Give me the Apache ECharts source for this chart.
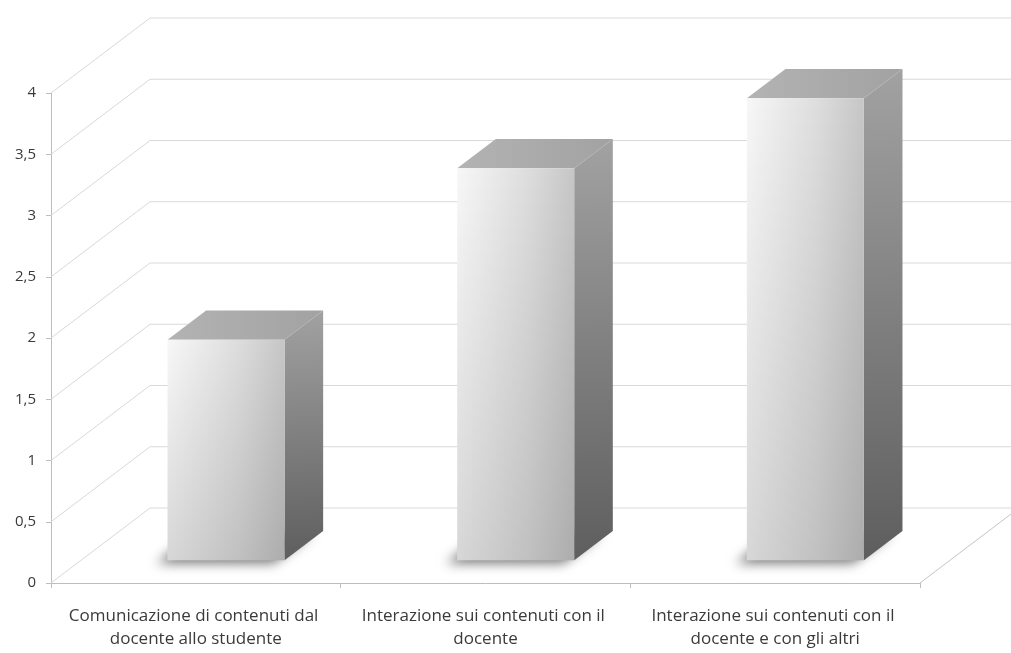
<!DOCTYPE html>
<html>
<head>
<meta charset="utf-8">
<script src="https://cdn.jsdelivr.net/npm/echarts@6/dist/echarts.min.js"></script>
<style>
  html, body { margin: 0; padding: 0; background: #ffffff; }
  #chart { width: 1011px; height: 653px; }
</style>
</head>
<body>
<div id="chart"></div>
<script>
// Categories and values of the 3D column chart
const categories = [
  'Comunicazione di contenuti dal docente allo studente',
  'Interazione sui contenuti con il docente',
  'Interazione sui contenuti con il docente e con gli altri'
];
const values = [1.8, 3.2, 3.77];
const yTicks = [0, 0.5, 1, 1.5, 2, 2.5, 3, 3.5, 4];

// Oblique depth of the plot box in pixels
const DX = 99, DY = -75;
// Column footprint inside the box: width share of a category, front/back depth share
const BAR_W = 0.404, F0 = 0.305, F1 = 0.695;

const chart = echarts.init(document.getElementById('chart'), null, { renderer: 'canvas' });

function wallItem(params, api) {
  const cs = params.coordSys;
  const v = api.value(0);
  const y = api.coord([0, v])[1];
  const x0 = cs.x, x1 = cs.x + cs.width;
  const line = { stroke: '#d9d9d9', lineWidth: 1, fill: null };
  const children = [{
    type: 'polyline',
    shape: { points: [[x0, y], [x0 + DX, y + DY], [x1 + DX, y + DY]] },
    style: line, silent: true
  }];
  if (v === 0) {
    children.push({
      type: 'line',
      shape: { x1: x1, y1: y, x2: x1 + DX, y2: y + DY },
      style: { stroke: '#c4c4c4', lineWidth: 1 }, silent: true
    });
  }
  return { type: 'group', children: children };
}

function barGeom(params, api) {
  const i = api.value(0);
  const base = api.coord([i, 0]);
  const top = api.coord([i, api.value(1)]);
  const catW = api.size([1, 0])[0];
  const bw = catW * BAR_W;
  const xl = base[0] - bw / 2 + F0 * DX;
  const xr = xl + bw;
  const yb = base[1] + F0 * DY;
  const yt = top[1] + F0 * DY;
  const ddx = (F1 - F0) * DX, ddy = (F1 - F0) * DY;
  return { xl, xr, yb, yt, ddx, ddy };
}

// Soft floor shadow: the footprint is drawn off to the side and only its blurred shadow lands under the column
function shadowItem(params, api) {
  const g = barGeom(params, api);
  const OFF = 3000;
  const ox = -11, oy = 3;
  return {
    type: 'polygon',
    shape: { points: [
      [g.xl - OFF, g.yb], [g.xr - OFF, g.yb],
      [g.xr + g.ddx - OFF, g.yb + g.ddy], [g.xl + g.ddx - OFF, g.yb + g.ddy]
    ] },
    style: {
      fill: '#000',
      shadowBlur: 12,
      shadowColor: 'rgba(0,0,0,0.55)',
      shadowOffsetX: OFF + ox,
      shadowOffsetY: oy
    },
    silent: true
  };
}

function barItem(params, api) {
  const g = barGeom(params, api);
  const w = g.xr - g.xl, h = g.yb - g.yt;
  const side = {
    type: 'polygon',
    shape: { points: [[g.xr, g.yb], [g.xr, g.yt], [g.xr + g.ddx, g.yt + g.ddy], [g.xr + g.ddx, g.yb + g.ddy]] },
    style: { fill: new echarts.graphic.LinearGradient(0, 0, 0.3, 1, [
      { offset: 0, color: '#a2a2a2' },
      { offset: 1, color: '#5e5e5e' }
    ]) }
  };
  const topFace = {
    type: 'polygon',
    shape: { points: [[g.xl, g.yt], [g.xr, g.yt], [g.xr + g.ddx, g.yt + g.ddy], [g.xl + g.ddx, g.yt + g.ddy]] },
    style: { fill: new echarts.graphic.LinearGradient(0, 0, 1, 0, [
      { offset: 0, color: '#b3b3b3' },
      { offset: 1, color: '#a2a2a2' }
    ]) }
  };
  // Front face: light-to-grey across, darkening slightly towards the floor
  const front = {
    type: 'rect',
    shape: { x: g.xl, y: g.yt, width: w, height: h },
    style: { fill: new echarts.graphic.LinearGradient(0, 0, 1, 0, [
      { offset: 0, color: '#f7f7f7' },
      { offset: 0.6, color: '#dddddd' },
      { offset: 1, color: '#c6c6c6' }
    ]) }
  };
  const frontShade = {
    type: 'rect',
    shape: { x: g.xl, y: g.yt, width: w, height: h },
    style: { fill: new echarts.graphic.LinearGradient(0, 0, 0, 1, [
      { offset: 0, color: 'rgba(0,0,0,0)' },
      { offset: 1, color: 'rgba(0,0,0,0.13)' }
    ]) }
  };
  return { type: 'group', children: [side, topFace, front, frontShade] };
}

const labelFont = "'Open Sans', 'Noto Sans', sans-serif";

chart.setOption({
  backgroundColor: '#ffffff',
  animation: false,
  grid: { left: 51, right: 91, top: 93, bottom: 70, containLabel: false },
  xAxis: {
    type: 'category',
    data: categories,
    boundaryGap: true,
    axisLine: { show: true, lineStyle: { color: '#bdbdbd', width: 1 } },
    axisTick: { show: true, length: 5, alignWithLabel: false, lineStyle: { color: '#bdbdbd' } },
    axisLabel: {
      interval: 0,
      width: 285,
      overflow: 'break',
      fontSize: 17,
      lineHeight: 23,
      margin: 22,
      color: '#3a3a3a',
      fontFamily: labelFont
    },
    splitLine: { show: false }
  },
  yAxis: {
    type: 'value',
    min: 0,
    max: 4,
    interval: 0.5,
    axisLine: { show: true, lineStyle: { color: '#bdbdbd', width: 1 } },
    axisTick: { show: true, length: 5, lineStyle: { color: '#bdbdbd' } },
    axisLabel: {
      fontSize: 15,
      margin: 15,
      color: '#3a3a3a',
      fontFamily: labelFont,
      formatter: function (v) { return String(v).replace('.', ','); }
    },
    splitLine: { show: false }
  },
  series: [
    {
      type: 'custom',
      name: 'walls',
      renderItem: wallItem,
      data: yTicks.map(function (t) { return [t]; }),
      encode: { y: 0 },
      clip: false,
      silent: true,
      z: 1
    },
    {
      type: 'custom',
      name: 'shadows',
      renderItem: shadowItem,
      data: values.map(function (v, i) { return [i, v]; }),
      encode: { x: 0, y: 1 },
      clip: false,
      silent: true,
      z: 2
    },
    {
      type: 'custom',
      name: 'valori',
      renderItem: barItem,
      data: values.map(function (v, i) { return [i, v]; }),
      encode: { x: 0, y: 1 },
      clip: false,
      z: 3
    }
  ]
});
</script>
</body>
</html>
